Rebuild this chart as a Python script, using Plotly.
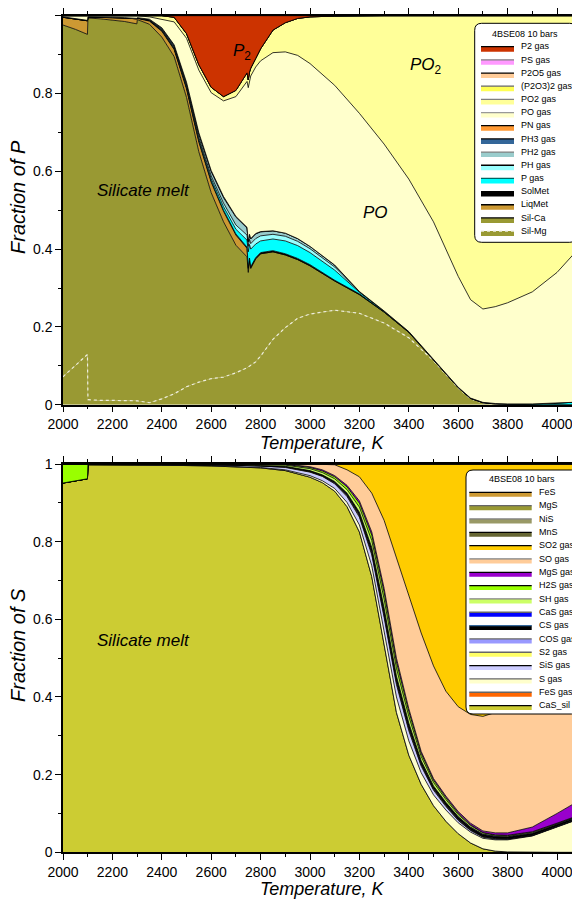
import plotly.graph_objects as go

# ---------------- data: phosphorus speciation (top panel) ----------------
T_P = [2000, 2050, 2099, 2101, 2150, 2200, 2250, 2299, 2301, 2350,
       2400, 2450, 2500, 2550, 2600, 2650, 2700, 2745, 2750, 2755,
       2760, 2780, 2800, 2850, 2900, 2950, 3000, 3100, 3200, 3300,
       3400, 3500, 3600, 3650, 3700, 3750, 3800, 3900, 4000, 4100]

sil_mg = [.072, .100, .129, .013, .011, .011, .011, .011, .010, .005,
          .015, .028, .046, .058, .067, .071, .082, .095, .097, .098,
          .100, .110, .125, .168, .198, .222, .233, .243, .235, .210,
          .172, .113, .043, .015, .004, .001, 0, 0, 0, 0]
sil_ca = [.904, .865, .823, .981, .981, .978, .974, .968, .980, .973,
          .930, .867, .744, .592, .478, .399, .328, .285, .243, .272,
          .250, .265, .263, .225, .187, .151, .124, .075, .048, .028,
          .014, .002, .001, .001, .001, .001, .001, 0, 0, 0]
liq_met = [.020, .027, .035, .002, .004, .006, .009, .013, .003, .008,
           .015, .018, .022, .025, .027, .027, .026, .022, .010, .004,
           .002, 0, 0, 0, 0, 0, 0, 0, 0, 0,
           0, 0, 0, 0, 0, 0, 0, 0, 0, 0]
sol_met = [0, 0, 0, 0, 0, 0, 0, 0, .001, .002,
           .002, .002, .003, .003, .003, .003, .003, .003, .003, .003,
           .003, .003, .003, .003, .003, .003, .003, .002, .002, .001,
           .001, 0, 0, 0, 0, 0, 0, 0, 0, 0]
p_gas = [0, 0, 0, 0, 0, 0, 0, 0, 0, 0,
         .001, .001, .002, .004, .006, .009, .012, .018, .040, .035,
         .045, .035, .030, .030, .033, .033, .031, .026, .004, .002,
         .001, .001, .001, .001, .001, .001, .001, .002, .004, .007]
ph_gas = [0, 0, 0, 0, 0, 0, 0, 0, 0, 0,
          .001, .002, .003, .005, .007, .009, .011, .013, .014, .013,
          .014, .014, .013, .012, .012, .011, .010, .008, .001, 0,
          0, 0, 0, 0, 0, 0, 0, 0, 0, 0]
ph2_gas = [0, 0, 0, 0, 0, 0, 0, 0, 0, .001,
           .002, .003, .005, .008, .011, .014, .020, .018, .012, .012,
           .012, .012, .010, .009, .008, .007, .006, .005, .001, 0,
           0, 0, 0, 0, 0, 0, 0, 0, 0, 0]
ph3_gas = [.001, .001, .001, .001, .001, .001, .001, .001, .001, .002,
           .003, .004, .004, .004, .003, .003, .002, .002, .001, .001,
           .001, .001, .001, 0, 0, 0, 0, 0, 0, 0,
           0, 0, 0, 0, 0, 0, 0, 0, 0, 0]
pn_gas = [0, 0, 0, 0, 0, 0, 0, 0, 0, 0,
          0, 0, 0, 0, 0, 0, 0, 0, 0, 0,
          0, 0, 0, 0, 0, 0, 0, 0, 0, 0,
          0, 0, 0, 0, 0, 0, 0, 0, 0, 0]
po_gas = [.003, .007, .012, .003, .003, .004, .005, .007, .005, .006,
          .021, .059, .113, .161, .200, .246, .308, .375, .395, .397,
          .418, .428, .439, .458, .466, .471, .470, .462, .458, .429,
          .392, .354, .285, .253, .240, .249, .260, .288, .336, .403]
po2_gas = [0, 0, 0, 0, 0, 0, 0, 0, 0, .003,
           .010, .012, .012, .014, .014, .011, .016, .022, .020, .020,
           .020, .022, .031, .058, .075, .095, .120, .178, .251, .330,
           .420, .530, .670, .730, .754, .748, .738, .710, .660, .590]
p2o3_2_gas = [0, 0, 0, 0, 0, 0, 0, 0, 0, 0,
              0, 0, 0, 0, 0, 0, 0, 0, 0, 0,
              0, 0, 0, 0, 0, 0, 0, 0, 0, 0,
              0, 0, 0, 0, 0, 0, 0, 0, 0, 0]
p2o5_gas = [0, 0, 0, 0, 0, 0, 0, 0, 0, 0,
            0, 0, 0, 0, 0, 0, 0, 0, 0, 0,
            0, 0, 0, 0, 0, 0, 0, 0, 0, 0,
            0, 0, 0, 0, 0, 0, 0, 0, 0, 0]
ps_gas = [0, 0, 0, 0, 0, 0, 0, 0, 0, 0,
          0, 0, 0, 0, 0, 0, 0, 0, 0, 0,
          0, 0, 0, 0, 0, 0, 0, 0, 0, 0,
          0, 0, 0, 0, 0, 0, 0, 0, 0, 0]
p2_gas = [0, 0, 0, 0, 0, 0, 0, 0, 0, 0,
          0, .004, .046, .126, .184, .208, .192, .147, .165, .145,
          .135, .110, .085, .037, .018, .007, .003, .001, 0, 0,
          0, 0, 0, 0, 0, 0, 0, 0, 0, 0]

# ---------------- data: sulfur speciation (bottom panel) ----------------
T_S = [2000, 2050, 2099, 2101, 2200, 2400, 2600, 2700, 2800, 2900,
       3000, 3050, 3100, 3150, 3200, 3250, 3300, 3350, 3400, 3450,
       3500, 3550, 3600, 3650, 3700, 3750, 3800, 3900, 4000, 4100]

cas_sil = [.951, .956, .962, .998, .998, .997, .995, .993, .990, .983,
           .966, .952, .930, .890, .825, .710, .530, .360, .250, .175,
           .120, .080, .048, .024, .009, .003, .001, 0, 0, 0]
fes_gas = [0, 0, 0, 0, 0, 0, 0, 0, 0, 0,
           0, 0, 0, 0, 0, 0, 0, 0, 0, 0,
           0, 0, 0, 0, 0, 0, 0, 0, 0, 0]
s_gas = [0, 0, 0, 0, 0, 0, .001, .001, .001, .002,
         .004, .005, .007, .011, .018, .028, .040, .040, .037, .030,
         .028, .029, .028, .028, .027, .029, .031, .042, .065, .088]
sis_gas = [0, 0, 0, .001, .001, .001, .002, .003, .004, .006,
           .009, .011, .012, .015, .020, .028, .035, .032, .026, .017,
           .012, .009, .006, .004, .003, .002, .002, .001, .001, .001]
s2_gas = [0, 0, 0, 0, 0, 0, 0, 0, 0, .001,
          .001, .001, .001, .002, .003, .004, .005, .005, .004, .003,
          .002, .002, .001, .001, .001, .001, 0, 0, 0, 0]
cos_gas = [0, 0, 0, 0, 0, 0, 0, 0, 0, .001,
           .001, .001, .002, .002, .003, .004, .005, .004, .004, .003,
           .002, .002, .002, .001, .001, .001, .001, .001, .001, .001]
cs_gas = [0, 0, 0, 0, 0, 0, 0, .001, .001, .001,
          .002, .002, .003, .004, .006, .009, .012, .011, .010, .007,
          .006, .006, .006, .006, .005, .005, .005, .005, .005, .005]
cas_gas = [0, 0, 0, 0, 0, 0, 0, 0, 0, 0,
           0, 0, 0, .001, .001, .002, .002, .002, .002, .001,
           .001, .001, .001, .001, .001, .001, .001, .001, .001, .001]
sh_gas = [0, 0, 0, 0, 0, .001, .001, .001, .002, .003,
          .005, .006, .007, .009, .013, .018, .023, .020, .017, .011,
          .009, .007, .005, .004, .003, .002, .002, .002, .001, .001]
h2s_gas = [.049, .044, .038, .001, .001, .001, .001, .001, .001, .002,
           .003, .004, .005, .007, .010, .014, .018, .016, .013, .008,
           .006, .005, .004, .002, .001, .001, .001, .001, .001, .001]
mgs_gas = [0, 0, 0, 0, 0, 0, 0, 0, .001, .001,
           .002, .003, .003, .004, .006, .008, .010, .010, .007, .005,
           .004, .004, .004, .004, .004, .005, .006, .012, .025, .039]
so_gas = [0, 0, 0, 0, 0, 0, 0, 0, 0, 0,
          .007, .014, .028, .040, .062, .100, .175, .260, .295, .305,
          .290, .270, .270, .280, .295, .310, .330, .375, .430, .503]
so2_gas = [0, 0, 0, 0, 0, 0, 0, 0, 0, 0,
           0, .001, .002, .015, .033, .075, .145, .240, .335, .435,
           .520, .585, .625, .645, .650, .640, .620, .560, .470, .360]
mns = [0, 0, 0, 0, 0, 0, 0, 0, 0, 0,
       0, 0, 0, 0, 0, 0, 0, 0, 0, 0,
       0, 0, 0, 0, 0, 0, 0, 0, 0, 0]
nis = [0, 0, 0, 0, 0, 0, 0, 0, 0, 0,
       0, 0, 0, 0, 0, 0, 0, 0, 0, 0,
       0, 0, 0, 0, 0, 0, 0, 0, 0, 0]
mgs = [0, 0, 0, 0, 0, 0, 0, 0, 0, 0,
       0, 0, 0, 0, 0, 0, 0, 0, 0, 0,
       0, 0, 0, 0, 0, 0, 0, 0, 0, 0]
fes = [0, 0, 0, 0, 0, 0, 0, 0, 0, 0,
       0, 0, 0, 0, 0, 0, 0, 0, 0, 0,
       0, 0, 0, 0, 0, 0, 0, 0, 0, 0]

# stacking order, bottom -> top
P_SERIES = [("Sil-Mg", sil_mg), ("Sil-Ca", sil_ca), ("LiqMet", liq_met),
            ("SolMet", sol_met), ("P gas", p_gas), ("PH gas", ph_gas),
            ("PH2 gas", ph2_gas), ("PH3 gas", ph3_gas), ("PN gas", pn_gas),
            ("PO gas", po_gas), ("PO2 gas", po2_gas),
            ("(P2O3)2 gas", p2o3_2_gas), ("P2O5 gas", p2o5_gas),
            ("PS gas", ps_gas), ("P2 gas", p2_gas)]
S_SERIES = [("CaS_sil", cas_sil), ("FeS gas", fes_gas), ("S gas", s_gas),
            ("SiS gas", sis_gas), ("S2 gas", s2_gas), ("COS gas", cos_gas),
            ("CS gas", cs_gas), ("CaS gas", cas_gas), ("SH gas", sh_gas),
            ("H2S gas", h2s_gas), ("MgS gas", mgs_gas), ("SO gas", so_gas),
            ("SO2 gas", so2_gas), ("MnS", mns), ("NiS", nis), ("MgS", mgs),
            ("FeS", fes)]

# ---------------- styles ----------------
FILL = {
    "P2 gas": "#CC3300", "PS gas": "#FF99FF", "P2O5 gas": "#FFCC99",
    "(P2O3)2 gas": "#FFFF55", "PO2 gas": "#FFFF99", "PO gas": "#FFFFCC",
    "PN gas": "#FF9933", "PH3 gas": "#336699", "PH2 gas": "#99CCCC",
    "PH gas": "#99FFFF", "P gas": "#00FFFF", "SolMet": "#000000",
    "LiqMet": "#CC9933", "Sil-Ca": "#999933", "Sil-Mg": "#999933",
    "FeS": "#CC9933", "MgS": "#999933", "NiS": "#999966", "MnS": "#666633",
    "SO2 gas": "#FFCC00", "SO gas": "#FFCC99", "MgS gas": "#9900CC",
    "H2S gas": "#99FF00", "SH gas": "#CCFF66", "CaS gas": "#0000FF",
    "CS gas": "#000000", "COS gas": "#9999FF", "S2 gas": "#FFFF66",
    "SiS gas": "#CCCCFF", "S gas": "#FFFFCC", "FeS gas": "#FF6600",
    "CaS_sil": "#CCCC33",
}
EDGE = {
    "PS gas": "#808080", "(P2O3)2 gas": "#666666", "PO2 gas": "#808080",
    "PO gas": "#999999", "PH2 gas": "#808080", "P gas": "#006666",
    "MgS": "#666666", "NiS": "#808080", "SO gas": "#808080",
    "SH gas": "#808080", "CaS gas": "#666666", "CS gas": "#336699",
    "COS gas": "#666666", "S2 gas": "#666666", "S gas": "#666666",
    "FeS gas": "#666666",
}
P_LEGEND = ["P2 gas", "PS gas", "P2O5 gas", "(P2O3)2 gas", "PO2 gas", "PO gas",
            "PN gas", "PH3 gas", "PH2 gas", "PH gas", "P gas", "SolMet",
            "LiqMet", "Sil-Ca", "Sil-Mg"]
S_LEGEND = ["FeS", "MgS", "NiS", "MnS", "SO2 gas", "SO gas", "MgS gas",
            "H2S gas", "SH gas", "CaS gas", "CS gas", "COS gas", "S2 gas",
            "SiS gas", "S gas", "FeS gas", "CaS_sil"]

FONT = "Liberation Sans, Arial, sans-serif"
W, H = 580, 900
OFF = 8            # page body margin: figure pixel = screen pixel - OFF
L = 55             # left margin (screen x = 63)
PW = W - L
PX_PER_K = 0.247


def px(x):   # screen x -> paper x
    return (x - OFF - L) / PW


def py(y):   # screen y -> paper y
    return 1 - (y - OFF) / H


fig = go.Figure()
for group, xs, series, xa, ya in (("P", T_P, P_SERIES, "x", "y"),
                                  ("S", T_S, S_SERIES, "x2", "y2")):
    for name, vals in series:
        if name == "Sil-Mg":
            line = dict(color="#EEEEDD", width=1.2, dash="dot")
        else:
            line = dict(color="black", width=0.8)
        fig.add_trace(go.Scatter(
            x=xs, y=vals, name=name, stackgroup=group, mode="lines",
            line=line, fillcolor=FILL[name], xaxis=xa, yaxis=ya,
            showlegend=False, hoverinfo="skip"))

axis_common = dict(
    showline=True, linecolor="black", linewidth=1.5, mirror="ticks",
    ticks="outside", ticklen=6, tickwidth=1.3, tickcolor="black",
    showgrid=False, zeroline=False,
    tickfont=dict(family=FONT, size=14, color="black"),
)
xa_common = dict(axis_common, range=[2000, 2000 + PW / PX_PER_K], tick0=2000,
                 dtick=200, minor=dict(dtick=100, ticklen=3, tickwidth=1.2,
                                       ticks="outside", tickcolor="black"))
ya_common = dict(axis_common, range=[0, 1], tick0=0, dtick=0.2, mirror=False,
                 minor=dict(dtick=0.1, ticklen=3, tickwidth=1.2,
                            ticks="outside", tickcolor="black"))

fig.update_layout(
    width=W, height=H,
    margin=dict(l=L, r=0, t=0, b=0, autoexpand=False),
    paper_bgcolor="white", plot_bgcolor="white",
    xaxis=dict(xa_common, domain=[0, 1], anchor="y"),
    yaxis=dict(ya_common, domain=[py(404.7), py(15.7)], anchor="x"),
    xaxis2=dict(xa_common, domain=[0, 1], anchor="y2"),
    yaxis2=dict(ya_common, domain=[py(852.3), py(464)], anchor="x2"),
)

annotations = []
shapes = []


def text(x, y, s, size, angle=0, xanchor="center"):
    annotations.append(dict(
        x=px(x), y=py(y), xref="paper", yref="paper", text=s, showarrow=False,
        xanchor=xanchor, yanchor="middle", textangle=angle,
        font=dict(family=FONT, size=size, color="black")))


# axis titles
text(321.7, 443, "<i>Temperature, K</i>", 18)
text(321.7, 889, "<i>Temperature, K</i>", 18)
text(18, 197, "<i>Fraction of P</i>", 20, angle=-90)
text(18, 645, "<i>Fraction of S</i>", 20, angle=-90)

# region labels
text(143.5, 190.5, "<i>Silicate melt</i>", 17)
text(143.5, 640, "<i>Silicate melt</i>", 17)
text(242, 52, "<i>P</i><sub>2</sub>", 17)
text(426, 66, "<i>PO</i><sub>2</sub>", 17)
text(375, 212, "<i>PO</i>", 17)


def rrect(x0, y0, x1, y1, r):
    rx, ry = r / PW, r / H
    X0, X1, Y0, Y1 = px(x0), px(x1), py(y0), py(y1)
    return (f"M{X0 + rx},{Y0} L{X1 - rx},{Y0} Q{X1},{Y0} {X1},{Y0 - ry} "
            f"L{X1},{Y1 + ry} Q{X1},{Y1} {X1 - rx},{Y1} L{X0 + rx},{Y1} "
            f"Q{X0},{Y1} {X0},{Y1 + ry} L{X0},{Y0 - ry} Q{X0},{Y0} {X0 + rx},{Y0} Z")


def legend(names, box, title_pos, y_first, step, sx0, sx1, tx, fh):
    shapes.append(dict(type="path", path=rrect(*box, 7), xref="paper",
                       yref="paper", fillcolor="white",
                       line=dict(color="black", width=1)))
    text(title_pos[0], title_pos[1], "4BSE08 10 bars", 9)
    for i, name in enumerate(names):
        yi = y_first + i * step
        shapes.append(dict(type="rect", xref="paper", yref="paper",
                           x0=px(sx0), x1=px(sx1), y0=py(yi), y1=py(yi + fh),
                           fillcolor=FILL[name], line=dict(width=0)))
        if name == "Sil-Mg":
            ln = dict(color="#EEEEDD", width=1.2, dash="dot")
        else:
            ln = dict(color=EDGE.get(name, "black"), width=1.3)
        shapes.append(dict(type="line", xref="paper", yref="paper",
                           x0=px(sx0), x1=px(sx1), y0=py(yi), y1=py(yi),
                           line=ln))
        text(tx, yi - 0.3, name, 9, xanchor="left")


legend(P_LEGEND, (474.7, 23.3, 576.7, 242.3), (525, 34.3), 46.7, 13.17,
       481, 514, 519, 5)
legend(S_LEGEND, (466, 470, 578.5, 714), (521.7, 479.3), 492.3, 13.33,
       469.3, 531.7, 537, 4.5)

fig.update_layout(annotations=annotations, shapes=shapes)
fig.write_html("out.html")
